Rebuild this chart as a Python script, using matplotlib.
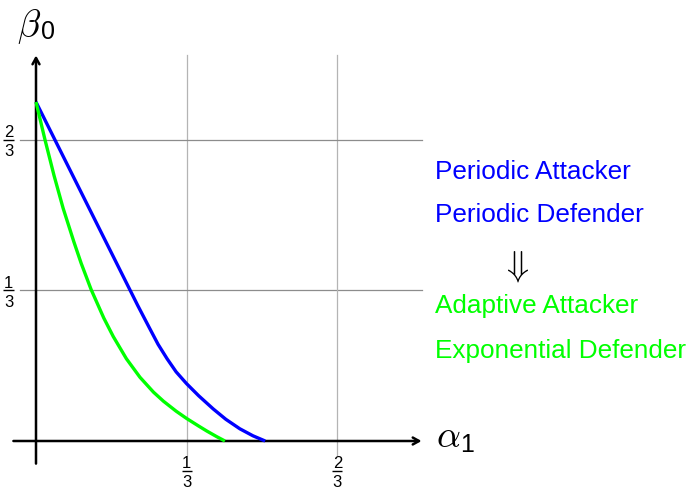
import matplotlib
matplotlib.use("Agg")
import matplotlib.pyplot as plt

plt.rcParams['font.family'] = ['Liberation Sans', 'DejaVu Sans']

# Periodic attacker vs. periodic defender
alpha_periodic = [0.0, 0.05, 0.10, 0.15, 0.20, 0.225, 0.25, 0.27, 0.29, 0.31,
                  0.333, 0.36, 0.392, 0.42, 0.451, 0.48, 0.507]
beta_periodic = [0.75, 0.65, 0.55, 0.45, 0.35, 0.30, 0.252, 0.214, 0.182, 0.153,
                 0.127, 0.100, 0.071, 0.048, 0.027, 0.0115, 0.0]

# Adaptive attacker vs. exponential defender
alpha_adaptive = [0.0, 0.02, 0.04, 0.06, 0.084, 0.10, 0.122, 0.15, 0.171, 0.20,
                  0.23, 0.26, 0.282, 0.31, 0.333, 0.36, 0.378, 0.40, 0.418]
beta_adaptive = [0.75, 0.666, 0.587, 0.515, 0.44, 0.393, 0.335, 0.272, 0.231, 0.182,
                 0.141, 0.108, 0.088, 0.066, 0.05, 0.033, 0.022, 0.0095, 0.0]

tick_values = [1 / 3, 2 / 3]
tick_fracs = [('1', '3'), ('2', '3')]

legend_lines = ['Periodic Attacker', 'Periodic Defender',
                'Adaptive Attacker', 'Exponential Defender']

BLUE = '#0000ff'
GREEN = '#00ff00'
PX = 1 / 452  # one pixel in data units

fig = plt.figure(figsize=(6.93, 4.89), dpi=100)
ax = fig.add_axes([0, 0, 1, 1])
ax.set_xlim(-36 * PX, 657 * PX)
ax.set_ylim(-47 * PX, 442 * PX)
ax.axis('off')


def stacked_fraction(xc, ybar, num, den, size=12):
    """Numerator over a short rule over the denominator, centred at xc."""
    ax.text(xc, ybar + 3.5 * PX, num, ha='center', va='baseline', fontsize=size)
    ax.plot([xc - 5 * PX, xc + 5 * PX], [ybar, ybar], color='black',
            lw=1.0, solid_capstyle='butt')
    ax.text(xc, ybar - 15.5 * PX, den, ha='center', va='baseline', fontsize=size)


lo, hi = -0.035, 0.853
# help lines
for v in tick_values:
    ax.plot([v, v], [-0.03, hi], color='#b4b4b4', lw=0.9, zorder=1)
    ax.plot([lo, hi], [v, v], color='#8c8c8c', lw=0.9, zorder=1)

# curves
ax.plot(alpha_periodic, beta_periodic, color=BLUE, lw=2.4, zorder=3,
        solid_capstyle='butt', solid_joinstyle='round')
ax.plot(alpha_adaptive, beta_adaptive, color=GREEN, lw=2.4, zorder=3,
        solid_capstyle='butt', solid_joinstyle='round')

# axes with arrow heads
arrow = dict(arrowstyle='->,head_length=0.45,head_width=0.25', lw=1.8,
             color='black', shrinkA=0, shrinkB=0)
ax.annotate('', xy=(hi, 0), xytext=(-0.05, 0), arrowprops=arrow, zorder=2)
ax.annotate('', xy=(0, hi), xytext=(0, -0.05), arrowprops=arrow, zorder=2)

# tick labels
for v, (num, den) in zip(tick_values, tick_fracs):
    stacked_fraction(v, -30 * PX, num, den)
    stacked_fraction(-27.5 * PX, v, num, den)

# axis labels
ax.text(-0.043, 0.899, r'$\beta$', fontsize=27, math_fontfamily='cm',
        ha='left', va='baseline')
ax.text(0.012, 0.8916, '0', fontsize=18, ha='left', va='baseline')
ax.text(0.885, -0.011, r'$\alpha$', fontsize=27, math_fontfamily='cm',
        ha='left', va='baseline')
ax.text(0.938, -0.022, '1', fontsize=18, ha='left', va='baseline')

# annotation text
x_text = (435 - 36) * PX
ax.text(x_text, (442 - 179) * PX, legend_lines[0], color=BLUE, fontsize=18.8,
        ha='left', va='baseline')
ax.text(x_text, (442 - 222) * PX, legend_lines[1], color=BLUE, fontsize=18.8,
        ha='left', va='baseline')
ax.text((515 - 36) * PX, (442 - 266) * PX, r'$\Downarrow$', fontsize=26,
        math_fontfamily='cm', ha='center', va='center')
ax.text(x_text, (442 - 313) * PX, legend_lines[2], color=GREEN, fontsize=18.8,
        ha='left', va='baseline')
ax.text(x_text, (442 - 358) * PX, legend_lines[3], color=GREEN, fontsize=18.8,
        ha='left', va='baseline')

fig.savefig('out.png', dpi=100)
